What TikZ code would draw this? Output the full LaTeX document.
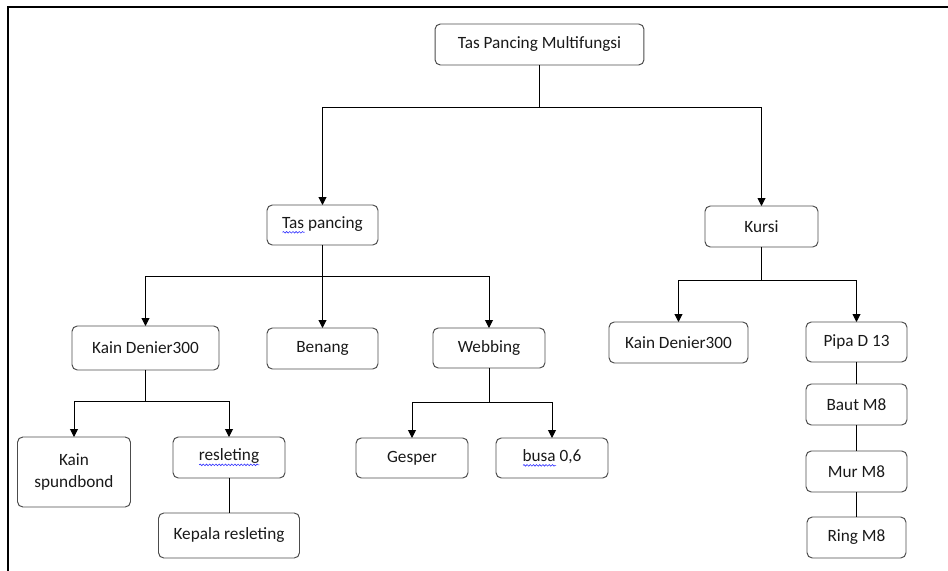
\documentclass[tikz,border=0pt]{standalone}
\usepackage{fontspec}
\setmainfont{Carlito}
\usetikzlibrary{arrows.meta,decorations.pathmorphing}
\newsavebox\wavebox
\newcommand\spellwave[1]{\sbox\wavebox{#1}\rlap{\raisebox{-2.2pt}{\tikz[baseline=0pt]
    \draw[blue!80, line width=0.35pt, rounded corners=0pt, decorate,
    decoration={snake, amplitude=0.45pt, segment length=1.8pt}] (0pt,0pt) -- (\wd\wavebox,0pt);}}\usebox\wavebox}
\begin{document}
\begin{tikzpicture}[x=0.02cm, y=-0.02cm, line width=0.55pt,
    arr/.style={-{Triangle[length=4.5pt,width=4.5pt]}}]
            \useasboundingbox (0,0) rectangle (948,571);
            \draw[line width=1.2pt] (8,571) -- (8,7) -- (948,7);
            \begin{scope}[every node/.style={draw=black!70, text=black!90, rounded corners=3pt,
                inner sep=0pt, outer sep=0pt, minimum width=2.02cm, minimum height=0.82cm,
                font=\fontsize{9.8}{12}\selectfont}]

                \node[minimum width=4.18cm] (1) at (539.5,44.5) {Tas Pancing Multifungsi};
                \node[minimum width=2.22cm, minimum height=0.8cm] (2) at (322.5,225) {\spellwave{Tas} pancing};
                \node[minimum width=2.26cm] (3) at (761.5,226.5) {Kursi};
                \node[minimum width=2.94cm, minimum height=0.88cm] (4) at (145.5,348) {Kain Denier300};
                \node[minimum width=2.22cm] (5) at (322.5,348.5) {Benang};
                \node[minimum width=2.24cm, minimum height=0.8cm] (6) at (489,348) {Webbing};
                \node[minimum width=2.78cm] (7) at (678.5,342.5) {Kain Denier300};
                \node[minimum height=0.8cm] (8) at (856.5,342) {Pipa D 13};
                \node (9) at (856.5,404.5) {Baut M8};
                \node (10) at (856.5,471.5) {Mur M8};
                \node[minimum width=1.98cm] (11) at (856.5,537.5) {Ring M8};
                \node[minimum width=2.26cm, minimum height=1.4cm, align=center] (12) at (74,472) {Kain\\spundbond};
                \node[minimum width=2.24cm] (13) at (229,457.5) {\spellwave{resleting}};
                \node[minimum width=2.82cm, minimum height=0.9cm] (14) at (229,535.5) {Kepala resleting};
                \node[minimum width=2.24cm, minimum height=0.8cm] (15) at (412,458) {Gesper};
                \node[minimum width=2.24cm, minimum height=0.8cm] (16) at (552,458) {\spellwave{busa} 0,6};

            \end{scope}
            \coordinate (a) at (539.5,107);
            \coordinate (b) at (322.5,276);
            \coordinate (c) at (761.5,280);
            \coordinate (d) at (145.5,401);
            \coordinate (e) at (489,402);
            \draw (1) -- (a);
            \draw[arr] (a) -| (2);
            \draw[arr] (a) -| (3);
            \draw (2) -- (b);
            \draw[arr] (b) -| (4);
            \draw[arr] (b) -- (5);
            \draw[arr] (b) -| (6);
            \draw (3) -- (c);
            \draw[arr] (c) -| (7);
            \draw[arr] (c) -| (8);
            \draw (8) -- (9);
            \draw (9) -- (10);
            \draw (10) -- (11);
            \draw (4) -- (d);
            \draw[arr] (d) -| (12);
            \draw[arr] (d) -| (13);
            \draw (13) -- (14);
            \draw (6) -- (e);
            \draw[arr] (e) -| (15);
            \draw[arr] (e) -| (16);
        \end{tikzpicture}
\end{document}
